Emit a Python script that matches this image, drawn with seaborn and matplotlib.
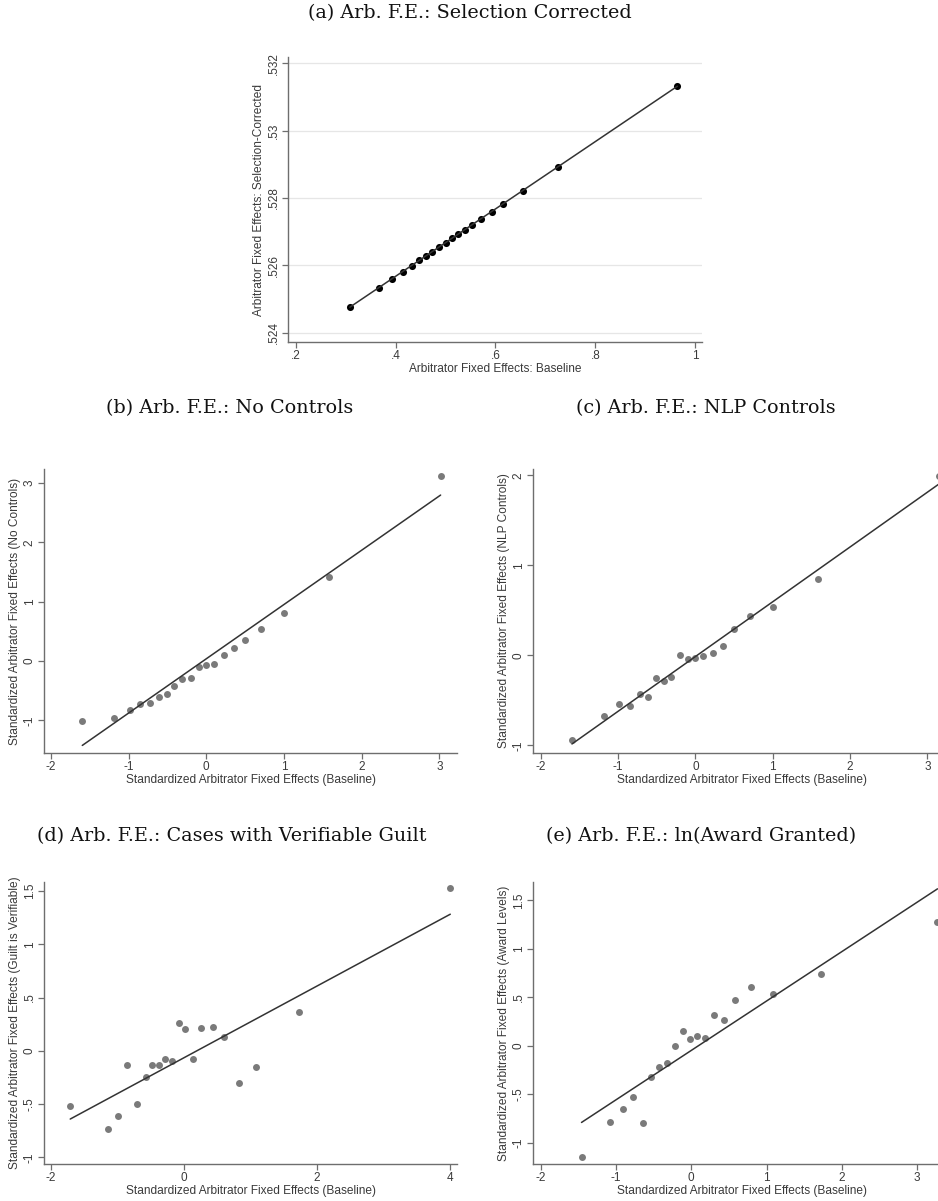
import numpy as np
import pandas as pd
import seaborn as sns
import matplotlib.pyplot as plt

# (a) selection-corrected vs baseline fixed effects (binned)
a_x = [0.308, 0.367, 0.3925, 0.414, 0.432, 0.447, 0.461, 0.473, 0.487, 0.501,
       0.513, 0.5255, 0.5395, 0.5535, 0.5716, 0.5923, 0.615, 0.6551, 0.7246, 0.9646]
a_y = [0.52476, 0.52533, 0.52561, 0.52580, 0.52599, 0.52615, 0.52629, 0.52640, 0.52655, 0.52668,
       0.52681, 0.52692, 0.52705, 0.52721, 0.52739, 0.52759, 0.52782, 0.52822, 0.52892, 0.53131]
a_fit = (0.009976, 0.52169)  # slope, intercept

# (b) no controls
b_x = [-1.597, -1.193, -0.987, -0.858, -0.730, -0.614, -0.511, -0.416, -0.309, -0.202,
       -0.094, 0.0, 0.103, 0.223, 0.352, 0.502, 0.700, 1.0, 1.579, 3.017]
b_y = [-1.011, -0.955, -0.820, -0.718, -0.701, -0.606, -0.549, -0.425, -0.296, -0.279,
       -0.104, -0.065, -0.048, 0.093, 0.217, 0.346, 0.538, 0.808, 1.423, 3.124]
b_fit = (0.915, 0.037)

# (c) NLP controls
c_x = [-1.595, -1.185, -0.983, -0.849, -0.720, -0.612, -0.509, -0.409, -0.310, -0.203,
       -0.099, 0.0, 0.099, 0.224, 0.358, 0.504, 0.703, 1.009, 1.582, 3.15]
c_y = [-0.943, -0.672, -0.538, -0.564, -0.431, -0.464, -0.256, -0.282, -0.238, 0.007,
       -0.041, -0.030, -0.007, 0.022, 0.108, 0.290, 0.442, 0.538, 0.847, 1.990]
c_fit = (0.6086, -0.014)

# (d) guilt is verifiable
d_x = [-1.706, -1.139, -0.983, -0.853, -0.697, -0.572, -0.477, -0.376, -0.276, -0.176,
       -0.075, 0.025, 0.135, 0.266, 0.437, 0.597, 0.828, 1.089, 1.736, 4.004]
d_y = [-0.518, -0.730, -0.608, -0.131, -0.502, -0.243, -0.131, -0.131, -0.081, -0.094,
       0.259, 0.203, -0.075, 0.218, 0.222, 0.128, -0.306, -0.156, 0.365, 1.526]
d_fit = (0.3366, -0.066)

# (e) award levels
e_x = [-1.456, -1.075, -0.907, -0.770, -0.646, -0.531, -0.429, -0.319, -0.212, -0.115,
       -0.022, 0.075, 0.181, 0.305, 0.434, 0.588, 0.796, 1.088, 1.717, 3.27]
e_y = [-1.140, -0.781, -0.651, -0.524, -0.795, -0.318, -0.219, -0.175, 0.003, 0.158,
       0.075, 0.106, 0.086, 0.315, 0.267, 0.473, 0.610, 0.531, 0.740, 1.277]
e_fit = (0.509, -0.047)

titles = ["(a) Arb. F.E.: Selection Corrected", "(b) Arb. F.E.: No Controls",
          "(c) Arb. F.E.: NLP Controls", "(d) Arb. F.E.: Cases with Verifiable Guilt",
          "(e) Arb. F.E.: ln(Award Granted)"]
xlabels = ["Arbitrator Fixed Effects: Baseline"] + ["Standardized Arbitrator Fixed Effects (Baseline)"] * 4
ylabels = ["Arbitrator Fixed Effects: Selection-Corrected",
           "Standardized Arbitrator Fixed Effects (No Controls)",
           "Standardized Arbitrator Fixed Effects (NLP Controls)",
           "Standardized Arbitrator Fixed Effects (Guilt is Verifiable)",
           "Standardized Arbitrator Fixed Effects (Award Levels)"]

a_xticks = [0.2, 0.4, 0.6, 0.8, 1.0]
a_xticklabels = [".2", ".4", ".6", ".8", "1"]
a_yticks = [0.524, 0.526, 0.528, 0.530, 0.532]
a_yticklabels = [".524", ".526", ".528", ".53", ".532"]
std_xticks = [-2, -1, 0, 1, 2, 3]
std_xticklabels = ["-2", "-1", "0", "1", "2", "3"]
b_yticks = [-1, 0, 1, 2, 3]
b_yticklabels = ["-1", "0", "1", "2", "3"]
c_yticks = [-1, 0, 1, 2]
c_yticklabels = ["-1", "0", "1", "2"]
d_xticks = [-2, 0, 2, 4]
d_xticklabels = ["-2", "0", "2", "4"]
half_yticks = [-1, -0.5, 0, 0.5, 1, 1.5]
half_yticklabels = ["-1", "-.5", "0", ".5", "1", "1.5"]

sns.set_theme(style="white")
plt.rcParams['font.family'] = ['Liberation Sans', 'DejaVu Sans']

W, H = 938, 1201
fig = plt.figure(figsize=(W / 100, H / 100), dpi=100)
fig.patch.set_facecolor("white")

axis_col = "#6e6e6e"
text_col = "#3a3a3a"


def make_ax(left, top, right, bottom):
    return fig.add_axes([left / W, 1 - bottom / H, (right - left) / W, (bottom - top) / H])


def panel(ax, x, y, fit, color, size, xlim, ylim, xt, xtl, yt, ytl, xlabel, ylabel, grid=False):
    df = pd.DataFrame({"x": x, "y": y})
    if grid:
        for v in yt:
            ax.axhline(v, color="#e6e6e6", lw=0.9, zorder=0)
    sns.scatterplot(data=df, x="x", y="y", ax=ax, color=color, s=size,
                    linewidth=0, zorder=2)
    xs = np.array([df.x.min(), df.x.max()])
    ax.plot(xs, fit[0] * xs + fit[1], color="#333333", lw=1.1, zorder=3)
    ax.set_xlim(*xlim)
    ax.set_ylim(*ylim)
    ax.set_xticks(xt)
    ax.set_xticklabels(xtl)
    ax.set_yticks(yt)
    ax.set_yticklabels(ytl, rotation=90, va="center")
    ax.set_xlabel(xlabel, fontsize=8.6, color=text_col, labelpad=0.5)
    ax.set_ylabel(ylabel, fontsize=8.6, color=text_col, labelpad=2)
    for s in ["top", "right"]:
        ax.spines[s].set_visible(False)
    for s in ["left", "bottom"]:
        ax.spines[s].set_color(axis_col)
        ax.spines[s].set_linewidth(1.0)
    ax.tick_params(axis="both", direction="out", length=4, width=0.9, color=axis_col,
                   labelsize=8.5, labelcolor=text_col, pad=2, bottom=True, left=True)
    ax.set_facecolor("white")


ax_a = make_ax(288, 57, 702, 342)
panel(ax_a, a_x, a_y, a_fit, "black", 26, (0.184, 1.014), (0.52373, 0.53218),
      a_xticks, a_xticklabels, a_yticks, a_yticklabels, xlabels[0], ylabels[0], grid=True)

gray = "#7a7a7a"
ax_b = make_ax(44, 469, 457, 753)
panel(ax_b, b_x, b_y, b_fit, gray, 25, (-2.09, 3.228), (-1.552, 3.237),
      std_xticks, std_xticklabels, b_yticks, b_yticklabels, xlabels[1], ylabels[1])

ax_c = make_ax(533, 469, 950, 753)
panel(ax_c, c_x, c_y, c_fit, gray, 25, (-2.099, 3.293), (-1.085, 2.07),
      std_xticks, std_xticklabels, c_yticks, c_yticklabels, xlabels[2], ylabels[2])

ax_d = make_ax(44, 882, 457, 1164)
panel(ax_d, d_x, d_y, d_fit, gray, 25, (-2.10, 4.105), (-1.062, 1.584),
      d_xticks, d_xticklabels, half_yticks, half_yticklabels, xlabels[3], ylabels[3])

ax_e = make_ax(533, 882, 950, 1164)
panel(ax_e, e_x, e_y, e_fit, gray, 25, (-2.10, 3.436), (-1.216, 1.688),
      std_xticks, std_xticklabels, half_yticks, half_yticklabels, xlabels[4], ylabels[4])

# panel titles
title_pos = [(470, 13), (230, 408), (706, 408), (232, 836), (701, 836)]
for (tx, ty), t in zip(title_pos, titles):
    fig.text(tx / W, 1 - ty / H, t, ha="center", va="center",
             family="DejaVu Serif", fontsize=13.8, color="#111111")

fig.savefig("out.png", dpi=100, facecolor="white")
